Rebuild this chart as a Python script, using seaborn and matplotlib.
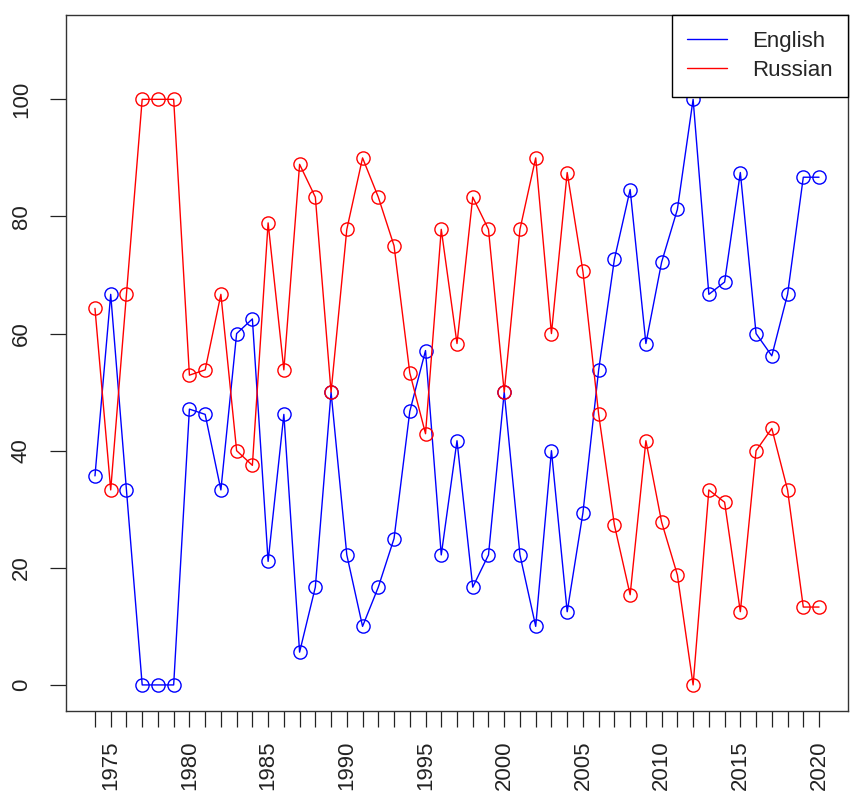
import numpy as np
import pandas as pd
import matplotlib
matplotlib.use("Agg")
import matplotlib.pyplot as plt
from matplotlib.lines import Line2D
import seaborn as sns

years = list(range(1974, 2021))
english = [35.7, 66.7, 33.3, 0, 0, 0, 47.1, 46.2, 33.3, 60.0, 62.5, 21.1, 46.2, 5.6,
           16.7, 50.0, 22.2, 10.0, 16.7, 25.0, 46.7, 57.1, 22.2, 41.7, 16.7, 22.2,
           50.0, 22.2, 10.0, 40.0, 12.5, 29.4, 53.8, 72.7, 84.6, 58.3, 72.2, 81.2,
           100.0, 66.7, 68.8, 87.5, 60.0, 56.2, 66.7, 86.7, 86.7]
russian = [64.3, 33.3, 66.7, 100, 100, 100, 52.9, 53.8, 66.7, 40.0, 37.5, 78.9, 53.8, 88.9,
           83.3, 50.0, 77.8, 90.0, 83.3, 75.0, 53.3, 42.9, 77.8, 58.3, 83.3, 77.8,
           50.0, 77.8, 90.0, 60.0, 87.5, 70.6, 46.2, 27.3, 15.4, 41.7, 27.8, 18.8,
           0.0, 33.3, 31.2, 12.5, 40.0, 43.8, 33.3, 13.3, 13.3]
series_names = ["English", "Russian"]
series_colors = ["blue", "red"]

df = pd.DataFrame({"year": years, "English": english, "Russian": russian})

sns.set_style("white")
plt.rcParams["font.family"] = ["Liberation Sans", "DejaVu Sans"]

fig = plt.figure(figsize=(8.5, 7.94), dpi=100)
ax = fig.add_axes([66 / 850, 1 - 710.7 / 794, (848 - 66) / 850, (710.7 - 15) / 794])

for name, col in zip(series_names, series_colors):
    sns.lineplot(data=df, x="year", y=name, ax=ax, color=col, linewidth=1.0,
                 marker="o", markersize=9.5, markerfacecolor="none",
                 markeredgecolor=col, markeredgewidth=1.0)

ax.set_xlim(1972.16, 2021.84)
ax.set_ylim(-4.4, 114.4)
ax.set_xlabel("")
ax.set_ylabel("")

ax.set_xticks(years)
ax.set_xticklabels([str(y) if y % 5 == 0 else "" for y in years], rotation=90,
                   fontsize=16)
ax.set_yticks([0, 20, 40, 60, 80, 100])
ax.set_yticklabels(["0", "20", "40", "60", "80", "100"], rotation=90, fontsize=16)
for lab in ax.get_yticklabels():
    lab.set_va("center")

ax.tick_params(axis="x", direction="out", length=11.5, width=0.9, pad=10,
               bottom=True, colors="#222222")
ax.tick_params(axis="y", direction="out", length=11.5, width=0.9, pad=13,
               left=True, colors="#222222")

for sp in ax.spines.values():
    sp.set_visible(True)
    sp.set_color("#333333")
    sp.set_linewidth(1.0)

handles = [Line2D([0], [0], color=c, linewidth=1.0) for c in series_colors]
leg = ax.legend(handles, series_names, loc="upper right", bbox_to_anchor=(1.0, 1.0),
                borderaxespad=0, fontsize=16, frameon=True, fancybox=False,
                framealpha=1, edgecolor="black", handlelength=1.8,
                handletextpad=1.1, labelspacing=0.38, borderpad=0.7)
leg.get_frame().set_linewidth(1.0)

fig.savefig("out.png", dpi=100)
